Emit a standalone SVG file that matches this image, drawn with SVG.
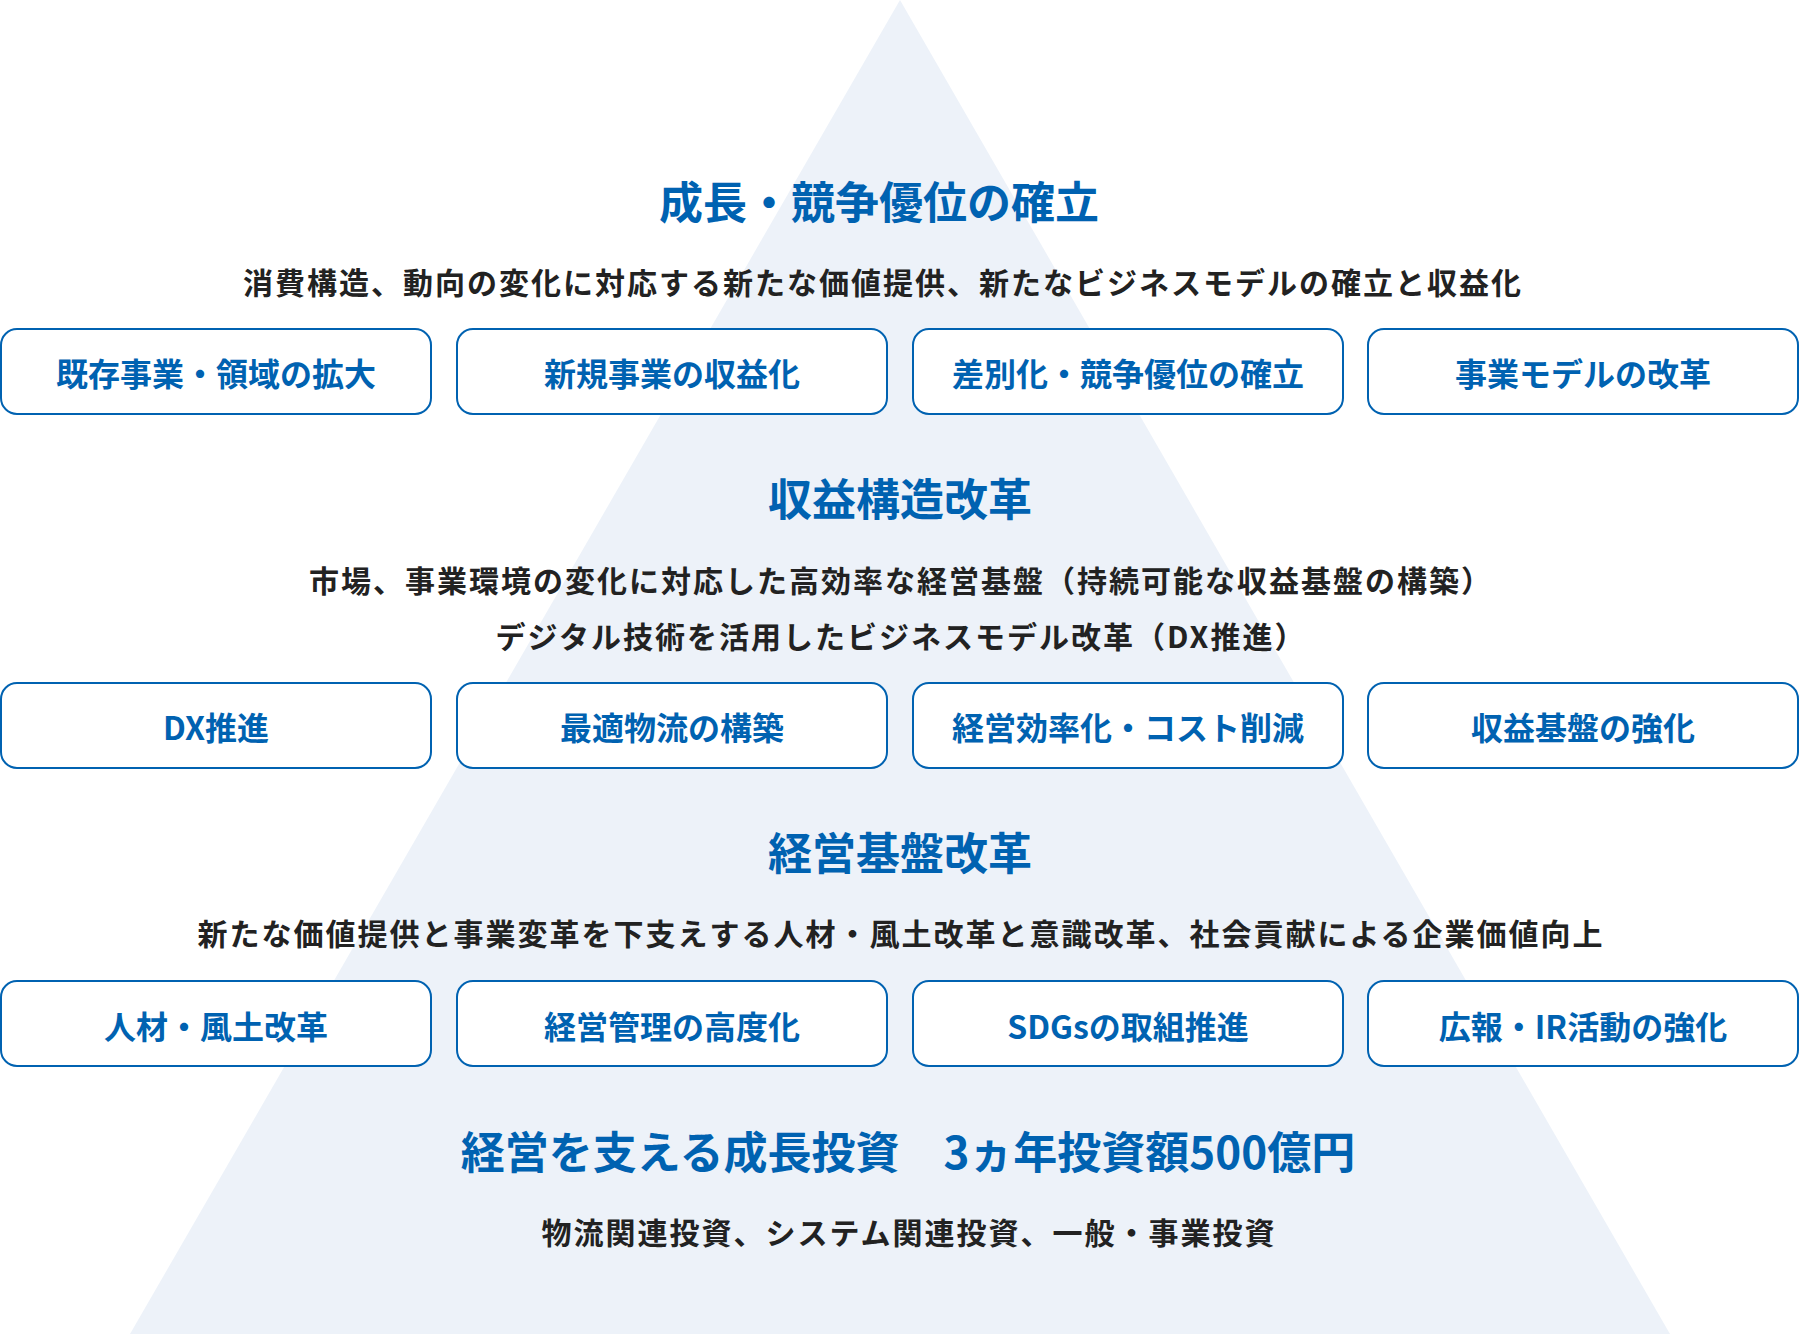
<svg xmlns="http://www.w3.org/2000/svg" width="1800" height="1334" viewBox="0 0 1800 1334">
<defs>
<style>
text{font-family:"Noto Sans CJK JP","Noto Sans",sans-serif;font-weight:700;text-anchor:middle}
.t{font-size:44px;fill:#0062B1}
.s{font-size:30px;fill:#222222;letter-spacing:2px}
.b{font-size:32px;fill:#0062B1}
.box{fill:#FFFFFF;stroke:#0062B1;stroke-width:2}
</style>
</defs>
<rect width="1800" height="1334" fill="#FFFFFF"/>
<polygon points="900,0 130,1334 1670,1334" fill="#EDF2F9"/>
<g id="connectors"></g>

<g id="level1">
<text class="t" x="879" y="219">成長・競争優位の確立</text>
<text class="s" x="883" y="294">消費構造、動向の変化に対応する新たな価値提供、新たなビジネスモデルの確立と収益化</text>
</g>
<g id="n1-1"><rect class="box" x="1" y="329" width="430" height="85" rx="16"/><text class="b" x="216" y="386">既存事業・領域の拡大</text></g>
<g id="n1-2"><rect class="box" x="457" y="329" width="430" height="85" rx="16"/><text class="b" x="672" y="386">新規事業の収益化</text></g>
<g id="n1-3"><rect class="box" x="913" y="329" width="430" height="85" rx="16"/><text class="b" x="1128" y="386">差別化・競争優位の確立</text></g>
<g id="n1-4"><rect class="box" x="1368" y="329" width="430" height="85" rx="16"/><text class="b" x="1583" y="386">事業モデルの改革</text></g>

<g id="level2">
<text class="t" x="900" y="516">収益構造改革</text>
<text class="s" x="901" y="592">市場、事業環境の変化に対応した高効率な経営基盤（持続可能な収益基盤の構築）</text>
<text class="s" x="901" y="648">デジタル技術を活用したビジネスモデル改革（DX推進）</text>
</g>
<g id="n2-1"><rect class="box" x="1" y="683" width="430" height="85" rx="16"/><text class="b" x="216" y="740">DX推進</text></g>
<g id="n2-2"><rect class="box" x="457" y="683" width="430" height="85" rx="16"/><text class="b" x="672" y="740">最適物流の構築</text></g>
<g id="n2-3"><rect class="box" x="913" y="683" width="430" height="85" rx="16"/><text class="b" x="1128" y="740">経営効率化・コスト削減</text></g>
<g id="n2-4"><rect class="box" x="1368" y="683" width="430" height="85" rx="16"/><text class="b" x="1583" y="740">収益基盤の強化</text></g>

<g id="level3">
<text class="t" x="900" y="870">経営基盤改革</text>
<text class="s" x="901" y="945">新たな価値提供と事業変革を下支えする人材・風土改革と意識改革、社会貢献による企業価値向上</text>
</g>
<g id="n3-1"><rect class="box" x="1" y="981" width="430" height="85" rx="16"/><text class="b" x="216" y="1039">人材・風土改革</text></g>
<g id="n3-2"><rect class="box" x="457" y="981" width="430" height="85" rx="16"/><text class="b" x="672" y="1039">経営管理の高度化</text></g>
<g id="n3-3"><rect class="box" x="913" y="981" width="430" height="85" rx="16"/><text class="b" x="1128" y="1039">SDGsの取組推進</text></g>
<g id="n3-4"><rect class="box" x="1368" y="981" width="430" height="85" rx="16"/><text class="b" x="1583" y="1039">広報・IR活動の強化</text></g>

<g id="level4">
<text class="t" x="908" y="1169">経営を支える成長投資　3ヵ年投資額500億円</text>
<text class="s" x="909" y="1244">物流関連投資、システム関連投資、一般・事業投資</text>
</g>
</svg>
